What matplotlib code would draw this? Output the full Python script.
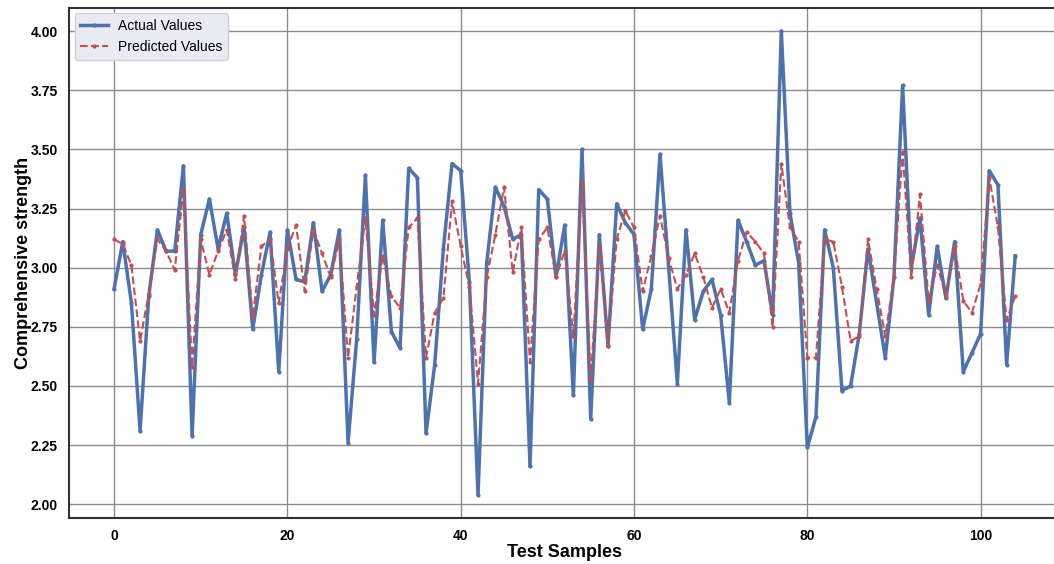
import numpy as np
import matplotlib.pyplot as plt

actual = [2.91, 3.11, 2.85, 2.31, 2.88, 3.16, 3.07, 3.07, 3.43, 2.29,
          3.14, 3.29, 3.08, 3.23, 2.97, 3.17, 2.74, 2.97, 3.15, 2.56,
          3.16, 2.95, 2.94, 3.19, 2.90, 2.97, 3.16, 2.26, 2.70, 3.39,
          2.60, 3.20, 2.73, 2.66, 3.42, 3.38, 2.30, 2.59, 3.08, 3.44,
          3.41, 2.94, 2.04, 3.02, 3.34, 3.26, 3.12, 3.14, 2.16, 3.33,
          3.29, 2.96, 3.18, 2.46, 3.50, 2.36, 3.14, 2.67, 3.27, 3.19,
          3.14, 2.74, 2.91, 3.48, 3.00, 2.51, 3.16, 2.78, 2.90, 2.95,
          2.80, 2.43, 3.20, 3.11, 3.01, 3.03, 2.80, 4.00, 3.23, 3.02,
          2.24, 2.37, 3.16, 3.00, 2.48, 2.50, 2.72, 3.08, 2.85, 2.62,
          2.96, 3.77, 3.00, 3.21, 2.80, 3.09, 2.87, 3.11, 2.56, 2.64,
          2.72, 3.41, 3.35, 2.59, 3.05]

predicted = [3.12, 3.10, 3.01, 2.69, 2.89, 3.12, 3.07, 2.99, 3.33, 2.58,
             3.12, 2.97, 3.07, 3.16, 2.95, 3.22, 2.79, 3.09, 3.12, 2.85,
             3.08, 3.18, 2.90, 3.16, 3.06, 2.96, 3.12, 2.62, 2.92, 3.21,
             2.80, 3.05, 2.88, 2.83, 3.17, 3.21, 2.62, 2.81, 2.87, 3.28,
             3.09, 2.92, 2.51, 2.96, 3.14, 3.34, 2.98, 3.17, 2.60, 3.12,
             3.17, 2.96, 3.07, 2.71, 3.36, 2.53, 3.09, 2.67, 3.12, 3.24,
             3.17, 2.90, 3.05, 3.22, 3.04, 2.91, 2.97, 3.06, 2.96, 2.83,
             2.91, 2.81, 3.03, 3.15, 3.11, 3.06, 2.75, 3.44, 3.17, 3.11,
             2.62, 2.62, 3.12, 3.11, 2.92, 2.69, 2.71, 3.12, 2.91, 2.71,
             2.96, 3.49, 2.96, 3.31, 2.86, 3.01, 2.88, 3.09, 2.86, 2.81,
             2.93, 3.38, 3.17, 2.78, 2.88]

x = np.arange(len(actual))

plt.rcParams['font.family'] = ['Liberation Sans', 'DejaVu Sans']

fig = plt.figure(figsize=(10.54, 5.64), dpi=100)
ax = fig.add_axes([0.0655, 0.0816, 0.9405, 0.9044])

ax.plot(x, actual, color="#4C72B0", linewidth=2.5, marker=".", markersize=4,
        label="Actual Values")
ax.plot(x, predicted, color="#C44E52", linewidth=1.5, linestyle="--",
        marker=".", markersize=4, label="Predicted Values")

ax.set_yticks([2.00, 2.25, 2.50, 2.75, 3.00, 3.25, 3.50, 3.75, 4.00])
ax.set_yticklabels([f"{v:.2f}" for v in ax.get_yticks()])
ax.set_xticks([0, 20, 40, 60, 80, 100])
ax.grid(True, color="#8c8c8c", linewidth=1.0)
ax.set_axisbelow(True)

for label in ax.get_xticklabels() + ax.get_yticklabels():
    label.set_fontweight("bold")
    label.set_fontsize(10)
ax.tick_params(length=0, pad=8)

for s in ax.spines.values():
    s.set_color("#333333")
    s.set_linewidth(1.5)

ax.set_xlabel("Test Samples", fontsize=13, fontweight="bold", labelpad=1)
ax.set_ylabel("Comprehensive strength", fontsize=13, fontweight="bold", labelpad=-1)

leg = ax.legend(loc="upper left", fontsize=10, frameon=True, fancybox=True,
                borderaxespad=0.4, handlelength=2.0, handletextpad=0.7)
leg.get_frame().set_facecolor("#EAEAF2")
leg.get_frame().set_edgecolor("#d0d0d8")
leg.get_frame().set_alpha(1.0)

fig.savefig("out.png", dpi=100)
